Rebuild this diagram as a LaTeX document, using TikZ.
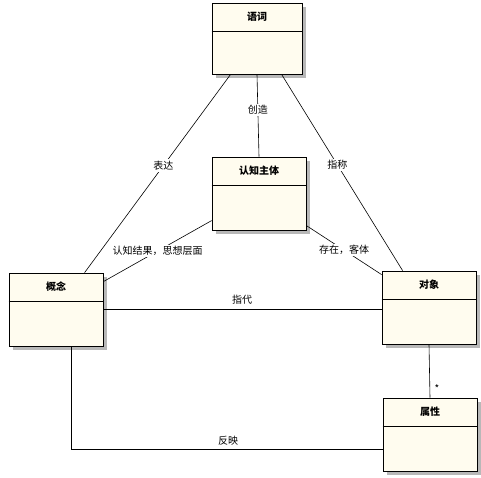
\documentclass[tikz,border=0pt]{standalone}
\usepackage{fontspec}
\newfontfamily\cjk{Noto Sans CJK SC}
\usetikzlibrary{shadows,calc}
\definecolor{boxfill}{HTML}{FFFCEF}
\tikzset{
  cls/.style={draw=black, line width=0.8pt, fill=boxfill, rectangle, inner sep=0pt,
    drop shadow={shadow xshift=4pt, shadow yshift=-4pt, fill=black!28, opacity=1}},
  ttl/.style={font=\cjk\fontsize{10}{12}\selectfont\bfseries, inner sep=1pt},
  lbl/.style={font=\cjk\fontsize{10}{12}\selectfont, fill=white, inner sep=1.5pt},
  lblnb/.style={font=\cjk\fontsize{10}{12}\selectfont, inner sep=1pt},
  conn/.style={draw=black, line width=0.6pt}
}
\begin{document}
\begin{tikzpicture}[x=1pt,y=-1pt]
\useasboundingbox[fill=white] (0,0) rectangle (481,478);
% boxes
\node[cls, minimum width=90pt, minimum height=71pt] (yuci) at (257,38.5) {};
\node[cls, minimum width=94pt, minimum height=73pt] (zhuti) at (259,193.5) {};
\node[cls, minimum width=94pt, minimum height=73pt] (gainian) at (56,309.5) {};
\node[cls, minimum width=94pt, minimum height=73pt] (duixiang) at (429,307.5) {};
\node[cls, minimum width=94pt, minimum height=73pt] (shuxing) at (430,434.5) {};
% dividers and titles
\foreach \n/\t in {yuci/语词, zhuti/认知主体, gainian/概念, duixiang/对象, shuxing/属性}{
  \draw[line width=0.8pt] ($(\n.north west)+(0,29)$) -- ($(\n.north east)+(0,29)$);
  \node[ttl] (\n-t) at ($(\n.north)+(0,14.5)$) {\t};
}
% anchor coordinates
\coordinate (y1) at ($(yuci.south west)+(19,0)$);
\coordinate (y3) at ($(yuci.south west)+(70,0)$);
\coordinate (g1) at ($(gainian.north west)+(76,0)$);
\coordinate (d1) at ($(duixiang.north west)+(21,0)$);
\coordinate (z1) at ($(zhuti.north west)+(0,64)$);
\coordinate (g2) at ($(gainian.north east)+(0,9)$);
\coordinate (z2) at ($(zhuti.north east)+(0,69)$);
\coordinate (d2) at ($(duixiang.north west)+(0,4)$);
\coordinate (g3) at ($(gainian.north east)+(0,36.5)$);
\coordinate (d3) at ($(duixiang.north west)+(0,38.5)$);
\coordinate (g4) at ($(gainian.south west)+(63,0)$);
\coordinate (s4) at ($(shuxing.north west)+(0,52)$);
\coordinate (corner) at (g4 |- s4);
% connectors
\draw[conn] (y1) -- node[lbl, pos=0.46] (l-biaoda) {表达} (g1);
\draw[conn] (yuci.south) -- node[lbl, pos=0.43] (l-chuangzao) {创造} (zhuti.north);
\draw[conn] (y3) -- node[lbl, pos=0.46] (l-zhicheng) {指称} (d1);
\draw[conn] (z1) -- node[lbl, pos=0.5] (l-renzhi) {认知结果，思想层面} (g2);
\draw[conn] (z2) -- node[lbl, pos=0.5] (l-cunzai) {存在，客体} (d2);
\draw[conn] (g3) -- (d3);
\node[lblnb] (l-zhidai) at (242,300) {指代};
\draw[conn] (duixiang.south) -- (shuxing.north);
\node[lblnb] (l-star) at (437,389) {*};
\draw[conn] (g4) -- (corner) -- (s4);
\node[lblnb] (l-fanying) at (228,441) {反映};
\end{tikzpicture}
\end{document}
